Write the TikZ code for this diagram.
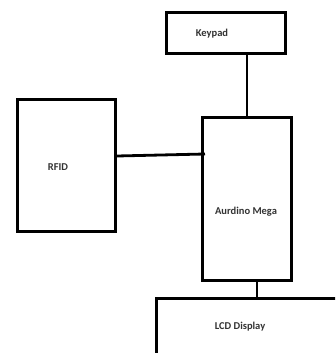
\documentclass[tikz,border=0pt]{standalone}
\usepackage{fontspec}
\setmainfont{Carlito}
\begin{document}
\begin{tikzpicture}[x=1pt,y=-1pt,
  blk/.style={draw=black,line width=2.8pt,rectangle,inner sep=0pt,anchor=north west},
  lbl/.style={font=\bfseries\fontsize{10.5}{12}\selectfont,text=black!80,inner sep=0pt},
  wire/.style={draw=black,line width=2.8pt}]
\useasboundingbox (0,0) rectangle (335,353);
\clip (0,0) rectangle (335,353);
\fill[white] (0,0) rectangle (335,353);
\node[blk,minimum width=119pt,minimum height=41pt] (kp) at (165,11) {};
\node[blk,minimum width=98pt,minimum height=132pt] (rfid) at (16,98) {};
\node[blk,minimum width=89pt,minimum height=163pt] (ard) at (201,116) {};
\node[blk,minimum width=200pt,minimum height=80pt] (lcd) at (155,297) {};
\node[lbl] (tkp) at (212,34) {Keypad};
\node[lbl] (trfid) at (58,167) {RFID};
\node[lbl] (tard) at (246,212) {Aurdino Mega};
\node[lbl] (tlcd) at (240,327) {LCD Display};
\coordinate (rfidout) at (rfid.east |- 0,156);
\coordinate (ardin) at (205,154);
\draw[wire] (ard.north |- kp.south) -- (ard.north);
\draw[wire] (rfidout) -- (ardin);
\draw[wire] ([xshift=10pt]ard.south) -- ([xshift=10pt]ard.south |- lcd.north);
\end{tikzpicture}
\end{document}
